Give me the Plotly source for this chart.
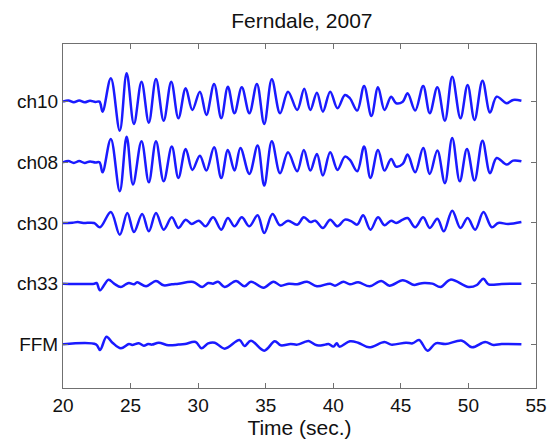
import plotly.graph_objects as go

# ---- data (time in s, normalized amplitude) ----
station_names = ["ch10", "ch08", "ch30", "ch33", "FFM"]
station_levels = [5, 4, 3, 2, 1]

ch10_t = [20.0, 20.4, 20.8, 21.2, 21.6, 22.0, 22.4, 22.7,
          22.93, 23.54, 24.20, 24.71, 25.25, 25.81, 26.35, 26.88, 27.45, 28.01,
          28.54, 29.08, 29.57, 30.13, 30.61, 31.18, 31.71, 32.20, 32.69, 33.23,
          33.79, 34.35, 34.89, 35.45, 36.06, 36.65, 37.33, 37.85, 38.30, 38.79,
          39.23, 39.77, 40.31, 40.86, 41.23, 41.77, 42.28, 42.82, 43.31, 43.79,
          44.28, 44.65, 45.14, 45.50, 46.06, 46.65, 47.14, 47.70, 48.26, 48.80,
          49.41, 49.94, 50.45, 51.04, 51.60, 52.09, 52.83, 53.31, 53.92]
ch10_a = [0.0, 0.02, -0.01, 0.02, -0.01, 0.015, -0.005, 0.0,
          -0.165, 0.386, -0.478, 0.468, -0.367, 0.329, -0.346, 0.374, -0.313, 0.329,
          -0.273, 0.221, -0.137, 0.165, -0.219, 0.292, -0.273, 0.247, -0.191, 0.237,
          -0.191, 0.292, -0.367, 0.369, -0.191, 0.165, -0.137, 0.213, -0.137, 0.148,
          -0.165, 0.165, -0.109, 0.110, 0.056, -0.148, 0.259, -0.236, 0.237, -0.137,
          0.082, -0.026, 0.0, 0.138, -0.148, 0.259, -0.191, 0.237, -0.313, 0.412,
          -0.273, 0.275, -0.301, 0.346, -0.181, 0.082, -0.026, 0.028, 0.016]

ch08_t = [20.0, 20.4, 20.8, 21.2, 21.6, 22.0, 22.4, 22.7,
          22.93, 23.54, 24.20, 24.71, 25.18, 25.81, 26.35, 26.88, 27.45, 28.05,
          28.54, 29.08, 29.57, 30.13, 30.61, 31.18, 31.71, 32.20, 32.69, 33.13,
          33.79, 34.40, 34.89, 35.45, 36.06, 36.65, 37.33, 37.82, 38.30, 38.79,
          39.23, 39.77, 40.31, 40.86, 41.23, 41.77, 42.28, 42.75, 43.31, 43.79,
          44.28, 44.65, 45.14, 45.50, 46.06, 46.65, 47.14, 47.70, 48.26, 48.80,
          49.36, 49.89, 50.45, 51.04, 51.60, 52.09, 52.83, 53.31, 53.92]
ch08_a = [0.0, 0.02, -0.01, 0.02, -0.01, 0.015, -0.005, 0.0,
          -0.165, 0.385, -0.478, 0.423, -0.367, 0.346, -0.329, 0.346, -0.313, 0.259,
          -0.257, 0.221, -0.125, 0.110, -0.137, 0.247, -0.257, 0.204, -0.137, 0.237,
          -0.191, 0.275, -0.384, 0.346, -0.181, 0.165, -0.148, 0.204, -0.137, 0.138,
          -0.219, 0.165, -0.125, 0.094, 0.039, -0.148, 0.259, -0.257, 0.204, -0.137,
          0.056, -0.071, -0.027, 0.127, -0.165, 0.237, -0.191, 0.193, -0.346, 0.401,
          -0.313, 0.221, -0.301, 0.357, -0.181, 0.072, -0.038, 0.028, 0.016]

ch30_t = [20.0, 20.7, 21.1, 21.5, 22.3,
          22.74, 23.54, 24.20, 24.76, 25.25, 25.86, 26.35, 26.88, 27.45, 28.05,
          28.54, 29.08, 29.52, 30.06, 30.54, 31.11, 31.71, 32.20, 32.69, 33.23,
          33.79, 34.40, 34.89, 35.50, 36.06, 36.65, 37.33, 37.82, 38.30, 38.67,
          39.23, 39.77, 40.31, 40.86, 41.35, 41.77, 42.21, 42.75, 43.31, 43.79,
          44.28, 44.65, 45.14, 45.50, 46.06, 46.65, 47.14, 47.70, 48.18, 48.80,
          49.41, 49.94, 50.50, 51.11, 51.73, 52.21, 52.94, 53.92]
ch30_a = [0.0, 0.005, 0.015, 0.0, 0.0,
          -0.071, 0.181, -0.193, 0.165, -0.148, 0.148, -0.138, 0.165, -0.110, 0.093,
          -0.082, 0.055, -0.017, 0.038, -0.055, 0.093, -0.110, 0.082, -0.055, 0.093,
          -0.055, 0.126, -0.165, 0.148, -0.038, 0.038, -0.028, 0.093, 0.016, 0.038,
          -0.082, 0.055, -0.055, 0.055, 0.027, -0.027, 0.126, -0.110, 0.093, -0.038,
          0.038, 0.0, 0.055, 0.082, -0.071, 0.093, -0.082, 0.071, -0.138, 0.203,
          -0.082, 0.082, -0.110, 0.181, -0.071, 0.0, -0.016, 0.016]

ch33_t = [20.0, 22.32, 22.49, 22.74, 23.37, 23.78, 24.28, 24.64, 24.88, 25.25,
          25.49, 26.15, 26.88, 27.45, 28.05, 28.54, 29.64, 30.30, 30.74, 31.11,
          31.47, 31.96, 32.81, 33.43, 33.91, 34.84, 35.57, 36.11, 36.72, 37.33,
          38.06, 38.79, 39.77, 40.13, 40.75, 41.23, 41.84, 42.69, 43.55, 44.16,
          45.14, 45.99, 46.35, 46.72, 47.33, 47.94, 48.67, 50.01, 50.63, 51.11,
          51.48, 52.46, 53.92]
ch33_a = [0.0, 0.0, 0.011, -0.110, 0.066, 0.0, -0.055, -0.011, 0.011, -0.011,
          0.022, -0.044, 0.044, -0.027, -0.011, 0.0, 0.027, -0.055, 0.011, 0.0,
          0.033, -0.055, 0.044, -0.044, 0.033, -0.066, 0.033, -0.033, 0.0, -0.011,
          0.033, -0.044, 0.0, -0.033, 0.033, -0.011, 0.022, -0.044, 0.044, -0.033,
          0.055, -0.022, 0.0, 0.011, 0.0, -0.055, 0.066, -0.055, -0.022, 0.082,
          -0.011, -0.005, 0.0]

ffm_t = [20.0, 22.44, 22.74, 23.22, 23.66, 24.28, 24.88, 25.12, 25.61, 25.98,
         26.30, 26.59, 27.08, 27.81, 28.54, 29.03, 29.81, 30.25, 30.74, 31.23,
         31.96, 33.06, 33.43, 33.91, 34.89, 35.67, 36.11, 36.84, 37.33, 37.94,
         38.18, 38.79, 39.40, 39.65, 40.01, 40.26, 40.45, 41.23, 41.84, 42.65,
         43.79, 44.28, 45.38, 45.87, 46.35, 46.97, 47.58, 48.31, 49.53, 50.26,
         51.24, 51.85, 52.46, 53.92]
ffm_a = [0.0, 0.0, -0.093, 0.126, 0.027, -0.066, 0.005, -0.011, 0.016, -0.022,
         0.005, -0.005, 0.027, -0.016, -0.005, 0.005, 0.038, -0.066, 0.016, 0.027,
         -0.071, 0.071, -0.027, 0.060, -0.104, 0.049, -0.016, 0.005, -0.005, 0.044,
         0.055, -0.016, -0.005, 0.005, -0.038, 0.016, -0.038, 0.049, 0.027, -0.049,
         0.038, -0.005, 0.027, 0.016, 0.071, -0.104, 0.016, 0.005, 0.060, -0.049,
         0.038, -0.011, 0.005, 0.0]

series_t = [ch10_t, ch08_t, ch30_t, ch33_t, ffm_t]
series_a = [ch10_a, ch08_a, ch30_a, ch33_a, ffm_a]

x_ticks = [20, 25, 30, 35, 40, 45, 50, 55]

FONT = "Liberation Sans, Arial, sans-serif"

fig = go.Figure()
for name, lvl, t, a in zip(station_names, station_levels, series_t, series_a):
    fig.add_trace(go.Scatter(
        x=t, y=[lvl + v for v in a], mode="lines", name=name,
        line=dict(color="#1a1aff", width=2.5, shape="spline", smoothing=1.0),
        showlegend=False, hoverinfo="skip"))

axis_common = dict(showline=True, linecolor="#707070", linewidth=1, mirror="ticks",
                   ticks="inside", ticklen=5, tickcolor="#707070", showgrid=False,
                   zeroline=False,
                   tickfont=dict(family=FONT, size=19, color="#111"))

fig.update_layout(
    width=559, height=444,
    margin=dict(l=63, r=18, t=44, b=56),
    paper_bgcolor="white", plot_bgcolor="white",
    title=dict(text="Ferndale, 2007", x=0.54, xanchor="center", y=0.953, yanchor="middle",
               font=dict(family=FONT, size=21, color="#111")),
    xaxis=dict(range=[20, 55], tickvals=x_ticks,
               title=dict(text="Time (sec.)", standoff=0,
                          font=dict(family=FONT, size=21, color="#111")),
               **axis_common),
    yaxis=dict(range=[0.28, 5.95], tickvals=station_levels, ticktext=station_names,
               **axis_common),
)

fig.write_html("out.html")
